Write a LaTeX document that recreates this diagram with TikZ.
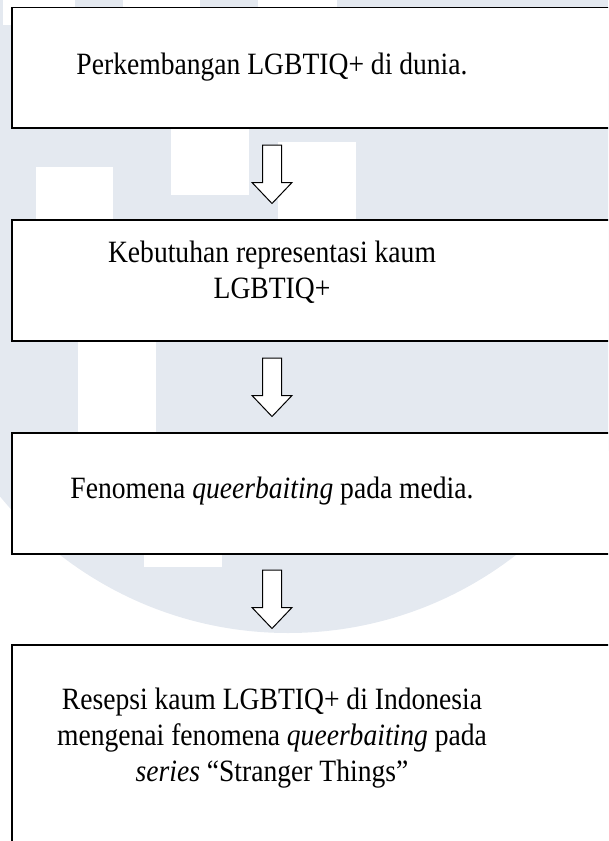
\documentclass[tikz,border=0pt]{standalone}
\usepackage{fontspec}
\setmainfont{Liberation Serif}[FakeStretch=0.89]
\definecolor{wm}{HTML}{E4E9F0}
\tikzset{
  box/.style={draw=black, line width=1.2pt, fill=white, outer sep=0pt, inner sep=0pt, anchor=north west, minimum width=628pt},
  txt/.style={align=center, anchor=base, inner sep=0pt, font=\fontsize{31}{36}\selectfont},
  barrow/.pic={\draw[line width=1pt, fill=white, line join=miter]
     (-9.5,0) -- (9.5,0) -- (9.5,37.5) -- (20,37.5) -- (0,58.5) -- (-20,37.5) -- (-9.5,37.5) -- cycle;}
}
\begin{document}
\begin{tikzpicture}[x=1pt, y=-1pt]
\useasboundingbox (0,0) rectangle (608,841);
\clip (0,0) rectangle (608,841);
% watermark
\fill[wm] (0,0) rectangle (608,300);
\fill[wm] (288,261) circle[radius=372pt];
\fill[white] (3,0) rectangle (75,25);
\fill[white] (123,0) rectangle (200,10);
\fill[white] (258,0) rectangle (337,10);
\fill[white] (36,167) rectangle (113,225);
\fill[white] (171,120) rectangle (249,195);
\fill[white] (278,142) rectangle (356,225);
\fill[white] (78,336) rectangle (156,438);
\fill[white] (144,550) rectangle (222,567);
% boxes
\node[box, minimum height=120.5pt] (b1) at (12,7.5) {};
\node[box, minimum height=121pt] (b2) at (12,220) {};
\node[box, minimum height=121pt] (b3) at (12,433) {};
\node[box, minimum height=215pt] (b4) at (12,645) {};
% texts (base anchor = baseline of last line)
\node[txt] (t1) at (272,74) {Perkembangan LGBTIQ+ di dunia.};
\node[txt] (t2) at (272,298) {Kebutuhan representasi kaum\\LGBTIQ+};
\node[txt] (t3) at (272,498) {Fenomena \textit{queerbaiting} pada media.};
\node[txt] (t4) at (272,781.7) {Resepsi kaum LGBTIQ+ di Indonesia\\mengenai fenomena \textit{queerbaiting} pada\\\textit{series} “Stranger Things”};
% arrows
\path (b1.south -| t1.center) ++(0,17) pic {barrow};
\path (b2.south -| t1.center) ++(0,17) pic {barrow};
\path (b3.south -| t1.center) ++(0,16) pic {barrow};
\end{tikzpicture}
\end{document}
